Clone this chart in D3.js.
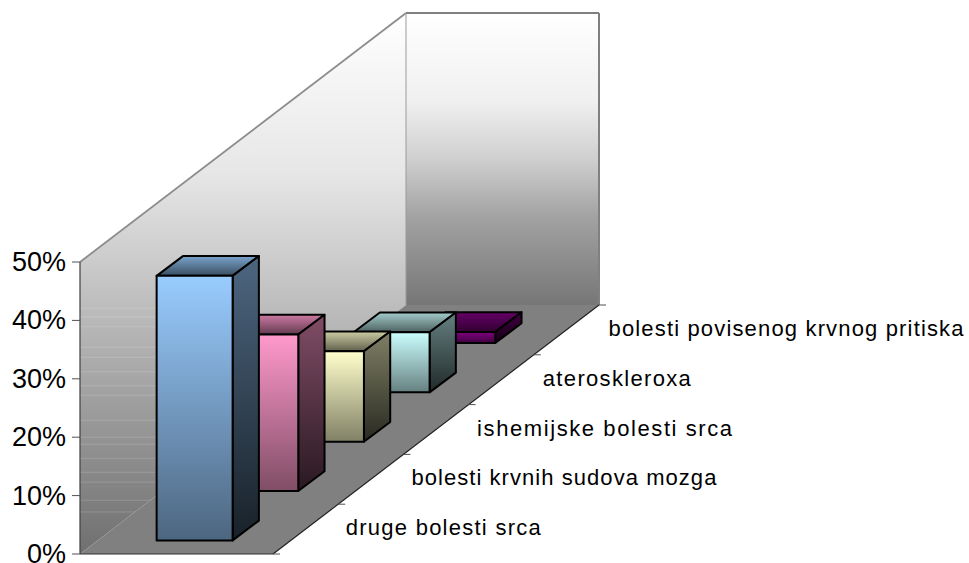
<!DOCTYPE html>
<html><head><meta charset="utf-8">
<script src="https://cdn.jsdelivr.net/npm/d3@7"></script>
<style>html,body{margin:0;padding:0;background:#fff}svg{display:block}text{font-family:"Liberation Sans",Arial,sans-serif;fill:#000}</style>
</head><body><svg id="c" width="969" height="563"></svg>
<script>
const categories = ["druge bolesti srca","bolesti krvnih sudova mozga","ishemijske bolesti srca","ateroskleroxa","bolesti povisenog krvnog pritiska"];
const values = [45.3, 26.8, 15.5, 10.3, 1.9];
const yTicks = [0, 10, 20, 30, 40, 50];
const palette = ["#99ccff", "#ff99cc", "#ffffcc", "#ccffff", "#800080"];
const wallStreaks = [42.1, 40.6, 38.9, 35.4, 33.7, 31.2, 28.8, 27.2, 22.9, 20, 18.8, 16.4, 14, 12.3, 9.2, 7.2];

const svg = d3.select("#c");
const O = [80, 554], W = 193, DX = 326, DY = -249, BDX = 328.3, BDY = -246.7;
const hScale = d3.scaleLinear().domain([0, 50]).range([0, 292]);
const depth = d3.scaleLinear().domain([0, 5]).range([0, 1]);
const band = d3.scaleBand().domain(categories).range([0, 5]).paddingInner(0.6).paddingOuter(0.3).align(0.46);
const across = d3.scaleBand().domain(["s"]).range([0, 1]).paddingInner(0).paddingOuter(0.77);
const P = (x, d, v) => [O[0] + W * x + DX * depth(d), O[1] + DY * depth(d) - hScale(v)];
const B = (x, d, v) => [O[0] + W * x + BDX * depth(d), O[1] + BDY * depth(d) - hScale(v)];
const poly = pts => "M" + pts.map(p => p.map(n => n.toFixed(2)).join(",")).join("L") + "Z";
const shade = (c, k) => { const r = d3.rgb(c); return d3.rgb(r.r * k, r.g * k, r.b * k).formatHex(); };

const defs = svg.append("defs");
function grad(id, stops, coords) {
  const g = defs.append("linearGradient").attr("id", id);
  if (coords) g.attr("gradientUnits", "userSpaceOnUse").attr("x1", 0).attr("x2", 0).attr("y1", coords[0]).attr("y2", coords[1]);
  else g.attr("x1", 0).attr("x2", 0).attr("y1", 0).attr("y2", 1);
  stops.forEach(s => g.append("stop").attr("offset", s[0]).attr("stop-color", s[1]));
}
grad("backWall", [[0, "#ffffff"], [0.3, "#f0f0f0"], [0.5, "#cfcfcf"], [0.7, "#a2a2a2"], [1, "#767676"]], [P(0,5,50)[1], P(0,5,0)[1]]);
grad("leftWall", [[0, "#ffffff"], [0.3, "#e6e6e6"], [1, "#6f6f6f"]], [P(0,5,50)[1], P(0,0,0)[1]]);

// walls and floor
const gWalls = svg.append("g");
gWalls.append("path").attr("d", poly([P(0,0,0), P(0,5,0), P(0,5,50), P(0,0,50)])).attr("fill", "url(#leftWall)");
gWalls.append("path").attr("d", poly([P(0,5,0), P(1,5,0), P(1,5,50), P(0,5,50)])).attr("fill", "url(#backWall)");
gWalls.selectAll("line.streak").data(wallStreaks).join("line").attr("class", "streak")
  .attr("x1", P(0,0,0)[0]).attr("x2", P(across("s"),0,0)[0] + 20)
  .attr("y1", d => P(0,0,d)[1]).attr("y2", d => P(0,0,d)[1])
  .attr("stroke", "#fff").attr("stroke-opacity", 0.16);
gWalls.append("path").attr("d", poly([P(0,0,0), P(1,0,0), P(1,5,0), P(0,5,0)])).attr("fill", "#808080");
const edge = (a, b, w, col) => gWalls.append("line")
  .attr("x1", a[0]).attr("y1", a[1]).attr("x2", b[0]).attr("y2", b[1]).attr("stroke", col).attr("stroke-width", w);
edge(P(0,0,50), P(0,5,50), 1.8, "#8c8c8c"); edge(P(0,5,50), P(1,5,50), 2, "#808080");
edge(P(1,5,50), P(1,5,0), 2, "#808080"); edge(P(0,5,50), P(0,5,0), 1, "#9a9a9a");
edge(P(0,0,0), P(0,0,50), 1.2, "#404040");
edge(P(0,0,0), P(1,0,0), 1.2, "#303030"); edge(P(1,0,0), P(1,5,0), 1.2, "#202020");

// value axis ticks
svg.append("g").selectAll("line").data(yTicks).join("line")
  .attr("x1", d => P(0,0,d)[0] - 8).attr("x2", d => P(0,0,d)[0])
  .attr("y1", d => P(0,0,d)[1]).attr("y2", d => P(0,0,d)[1]).attr("stroke", "#505050");
svg.append("g").selectAll("text").data(yTicks).join("text")
  .attr("x", 66).attr("y", d => P(0,0,d)[1] + 9).attr("text-anchor", "end")
  .attr("font-size", 27).text(d => d + "%");

// category ticks
svg.append("g").selectAll("line").data(d3.range(0, 6)).join("line")
  .attr("x1", d => P(1,d,0)[0]).attr("x2", d => P(1,d,0)[0] + 7)
  .attr("y1", d => P(1,d,0)[1]).attr("y2", d => P(1,d,0)[1]).attr("stroke", "#505050");

// bars, back to front
const data = categories.map((c, i) => ({ c, v: values[i], col: palette[i], i }));
data.forEach(d => {
  grad("f" + d.i, [[0, d.col], [1, shade(d.col, 0.5)]]);
  grad("s" + d.i, [[0, shade(d.col, 0.5)], [1, shade(d.col, 0.16)]]);
  grad("t" + d.i, [[0, shade(d.col, 0.8)], [1, shade(d.col, 0.38)]]);
});
const x0 = across("s"), x1 = x0 + across.bandwidth();
const bars = svg.append("g").selectAll("g").data(data.slice().reverse()).join("g")
  .attr("stroke", "#000").attr("stroke-width", 2).attr("stroke-linejoin", "round");
const dn = d => band(d.c), dk = d => band(d.c) + band.bandwidth();
bars.append("path").attr("fill", d => `url(#t${d.i})`)
  .attr("d", d => poly([B(x0,dn(d),d.v), B(x1,dn(d),d.v), B(x1,dk(d),d.v), B(x0,dk(d),d.v)]));
bars.append("path").attr("fill", d => `url(#s${d.i})`)
  .attr("d", d => poly([B(x1,dn(d),0), B(x1,dk(d),0), B(x1,dk(d),d.v), B(x1,dn(d),d.v)]));
bars.append("path").attr("fill", d => `url(#f${d.i})`)
  .attr("d", d => poly([B(x0,dn(d),0), B(x1,dn(d),0), B(x1,dn(d),d.v), B(x0,dn(d),d.v)]));

// category labels
const labelWidths = [195, 305, 255, 148, 355];
svg.append("g").selectAll("text").data(categories).join("text")
  .attr("x", (c, i) => P(1, i + 1, 0)[0] + 7.5 + 0.5 * i)
  .attr("y", (c, i) => P(1, i + 1, 0)[1] + 31)
  .attr("font-size", 22)
  .attr("textLength", (c, i) => labelWidths[i]).attr("lengthAdjust", "spacing")
  .text(c => c);
</script></body></html>
